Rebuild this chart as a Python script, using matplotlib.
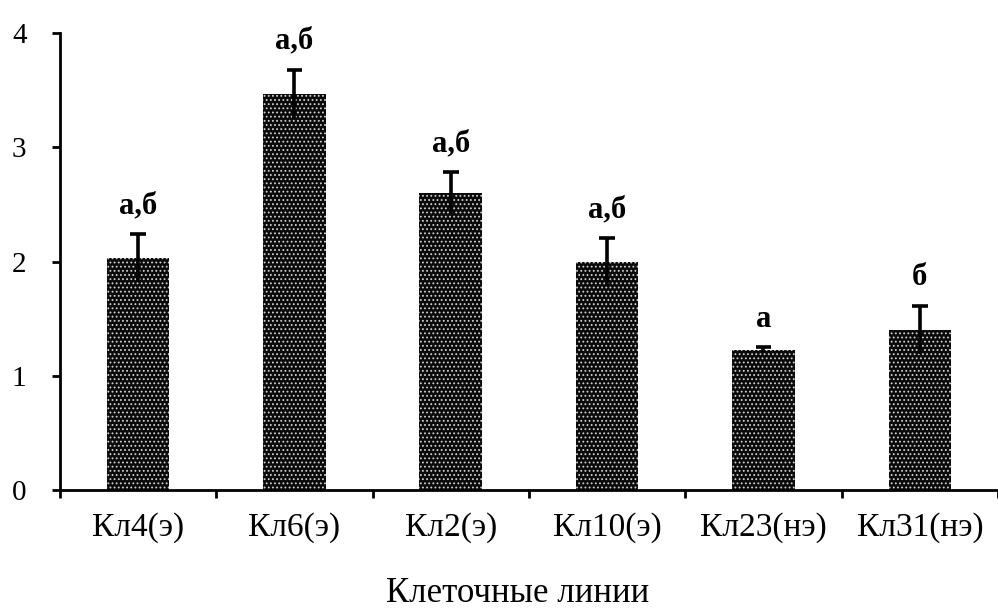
import matplotlib
matplotlib.use("Agg")
import matplotlib.pyplot as plt
import numpy as np

lines = ["Кл4(э)", "Кл6(э)", "Кл2(э)", "Кл10(э)", "Кл23(нэ)", "Кл31(нэ)"]
means = [2.03, 3.47, 2.60, 2.00, 1.23, 1.40]
errors = [0.21, 0.21, 0.18, 0.21, 0.02, 0.21]
marks = ["а,б", "а,б", "а,б", "а,б", "а", "б"]

plt.rcParams["font.family"] = ["Liberation Serif", "DejaVu Serif"]
plt.rcParams["hatch.linewidth"] = 0.8

fig = plt.figure(figsize=(9.98, 6.12), dpi=100)
ax = fig.add_axes([0.06, 0.199, 0.94, 0.747])

x = np.arange(len(lines))
ax.bar(x, means, width=0.4, color="#0a0a0a", edgecolor="#d0d0d0",
       linewidth=0, hatch="....", zorder=2)

# error stem through the bar, cap only on the upper end
lo = np.subtract(means, errors)
hi = np.add(means, errors)
ax.vlines(x, lo, hi, color="black", linewidth=2.6, zorder=3)
ax.hlines(hi, x - 0.05, x + 0.05, color="black", linewidth=2.6, zorder=3)

for xi, top, lab in zip(x, hi, marks):
    ax.text(xi, top + 0.12, lab, ha="center", va="bottom",
            fontsize=22, fontweight="bold")

ax.set_xlim(-0.5, 5.47)
ax.set_ylim(0, 4)
ax.set_yticks([0, 1, 2, 3, 4])
ax.set_xticks(x)
ax.set_xticklabels(lines, fontsize=24)
ax.set_xticks(np.arange(-0.5, 5.6, 1), minor=True)
ax.tick_params(axis="x", which="major", length=0, pad=16)
ax.tick_params(axis="x", which="minor", length=6, width=2, direction="out")
ax.tick_params(axis="y", labelsize=21, length=6, width=2, pad=18)

for side in ("top", "right"):
    ax.spines[side].set_visible(False)
for side in ("left", "bottom"):
    ax.spines[side].set_linewidth(2)

ax.set_xlabel("Клеточные линии", fontsize=25)
ax.xaxis.set_label_coords(0.488, -0.19)

fig.savefig("out.png", dpi=100)
